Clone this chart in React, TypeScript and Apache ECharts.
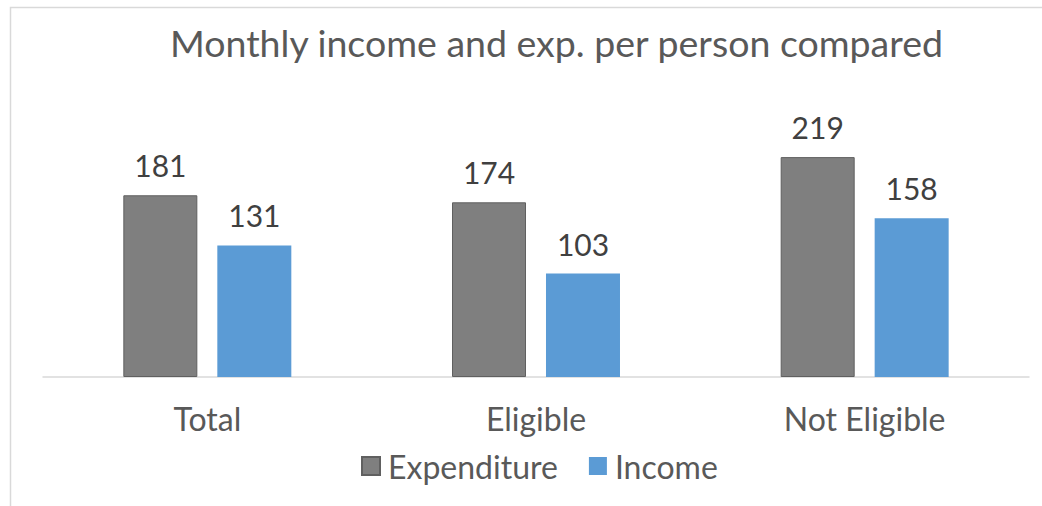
import React, { useEffect, useRef } from "react";
import * as echarts from "echarts";

const categories = ["Total", "Eligible", "Not Eligible"];
const expenditure = [181, 174, 219];
const income = [131, 103, 158];
const titleText = "Monthly income and exp. per person compared";

export default function App() {
  const ref = useRef<HTMLDivElement>(null);
  useEffect(() => {
    if (!ref.current) return;
    const chart = echarts.init(ref.current, undefined, { renderer: "svg" });
    const font = "Lato";
    chart.setOption({
      animation: false,
      backgroundColor: "#ffffff",
      title: {
        text: titleText,
        left: 165,
        top: 18,
        textStyle: { fontFamily: font, fontSize: 37.5, fontWeight: "normal", color: "#595959" },
      },
      legend: {
        bottom: 19,
        left: 356,
        icon: "rect",
        itemWidth: 18,
        itemHeight: 18,
        itemGap: 31,
        textStyle: { fontFamily: font, fontSize: 32, color: "#595959", padding: [0, 0, 0, 3] },
        data: ["Expenditure", "Income"],
      },
      graphic: [
        {
          type: "rect",
          shape: { x: 10.5, y: 7.5, width: 1200, height: 700 },
          style: { fill: "none", stroke: "#d9d9d9", lineWidth: 1.5 },
          silent: true,
        },
      ],
      grid: { left: 43, right: 13, top: 126, bottom: 129 },
      xAxis: {
        type: "category",
        data: categories,
        axisLine: { lineStyle: { color: "#d9d9d9", width: 1.5 } },
        axisTick: { show: false },
        axisLabel: { fontFamily: font, fontSize: 32, color: "#595959", margin: 25 },
      },
      yAxis: {
        type: "value",
        min: 0,
        max: 250,
        show: false,
        splitLine: { show: false },
      },
      series: [
        {
          name: "Expenditure",
          type: "bar",
          data: expenditure,
          barWidth: 74,
          barGap: "27%",
          itemStyle: { color: "#7f7f7f", borderColor: "#606060", borderWidth: 1 },
          label: {
            show: true,
            position: "top",
            distance: 15,
            fontFamily: font,
            fontSize: 30,
            color: "#404040",
          },
        },
        {
          name: "Income",
          type: "bar",
          data: income,
          barWidth: 74,
          itemStyle: { color: "#5b9bd5" },
          label: {
            show: true,
            position: "top",
            distance: 15,
            fontFamily: font,
            fontSize: 30,
            color: "#404040",
          },
        },
      ],
    });
    return () => chart.dispose();
  }, []);
  return (
    <div
      ref={ref}
      style={{ position: "fixed", left: 0, top: 0, width: 1042, height: 506 }}
    />
  );
}
